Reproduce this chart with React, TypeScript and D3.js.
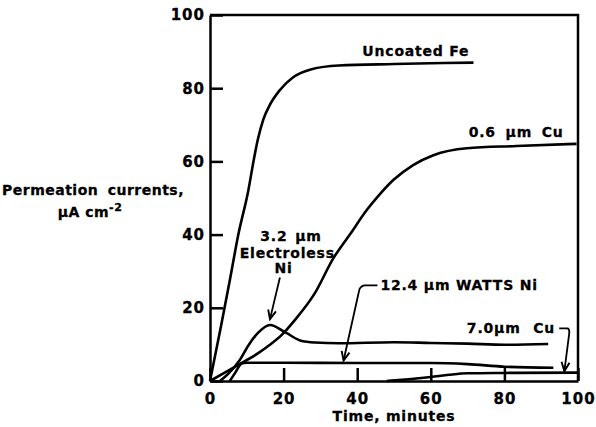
import * as d3 from 'd3';
import { useEffect, useRef } from 'react';

// time (minutes) / permeation current (uA cm-2)
const feX = [0, 3, 5.4, 7.7, 10.4, 12, 13, 14.5, 16.3, 19, 22.6, 27.6, 35, 50, 60, 71.6];
const feY = [0, 15, 27.6, 40, 52, 61, 66, 71.5, 75.5, 79.5, 83, 85.2, 86.2, 86.6, 86.8, 87];

const cu06X = [0, 4, 7.7, 13.1, 16, 19.5, 23.1, 28.5, 33.5, 38, 42.6, 45.7, 49.8, 55.2, 60.7, 69.8, 83.3, 99.6];
const cu06Y = [0, 2.3, 4.4, 7.6, 9.7, 12.6, 16.7, 24, 33.5, 40, 46.7, 50.5, 54.9, 59, 61.7, 63.6, 64.2, 64.8];

const eNiX = [2.7, 5, 8, 10.6, 13.1, 16.3, 20.6, 25, 28.5, 35, 50, 60, 70, 80, 91.9];
const eNiY = [0, 2, 5.6, 10, 13.2, 15.3, 13.2, 10.9, 10.5, 10.3, 10.6, 10.4, 10.2, 9.9, 10.1];

const wattsX = [5.4, 7, 8.6, 10, 20, 40, 60, 70, 80, 93.3];
const wattsY = [0, 2.5, 4.8, 5.0, 5.0, 4.9, 4.9, 4.6, 3.9, 3.6];

const cu70X = [48, 52, 56, 60, 65, 70, 80, 100];
const cu70Y = [0, 0.3, 0.7, 1.1, 1.7, 2.1, 2.2, 2.3];

const xTicks = [0, 20, 40, 60, 80, 100];
const yTicks = [0, 20, 40, 60, 80, 100];

const FONT = '"DejaVu Sans", sans-serif';

const App = () => {
  const ref = useRef(null);

  useEffect(() => {
    const svg = d3.select(ref.current);
    svg.selectAll('*').remove();

    const left = 210, right = 578, top = 15, bottom = 381;
    const x = d3.scaleLinear().domain([0, 100]).range([left, right]);
    const y = d3.scaleLinear().domain([0, 100]).range([bottom, top]);

    const defs = svg.append('defs');
    defs
      .append('marker')
      .attr('id', 'arr')
      .attr('viewBox', '-10 -6 12 12')
      .attr('refX', 0)
      .attr('refY', 0)
      .attr('markerWidth', 12)
      .attr('markerHeight', 12)
      .attr('markerUnits', 'userSpaceOnUse')
      .attr('orient', 'auto')
      .append('path')
      .attr('d', 'M-9,-4 L0,0 L-9,4')
      .attr('fill', 'none')
      .attr('stroke', '#000')
      .attr('stroke-width', 1.9);

    const xAxis = svg
      .append('g')
      .attr('transform', 'translate(0,' + bottom + ')')
      .call(d3.axisBottom(x).tickValues(xTicks).tickSizeInner(-13).tickSizeOuter(0).tickPadding(12));
    const yAxis = svg
      .append('g')
      .attr('transform', 'translate(' + left + ',0)')
      .call(d3.axisLeft(y).tickValues(yTicks).tickSizeInner(-13).tickSizeOuter(0).tickPadding(5));

    [xAxis, yAxis].forEach((g) => {
      g.attr('font-family', FONT).attr('font-size', 15).attr('font-weight', 'bold');
      g.selectAll('path, line').attr('stroke', '#000').attr('stroke-width', 2.5);
      g.selectAll('text').attr('fill', '#000').attr('stroke', '#000').attr('stroke-width', 0.3).style('letter-spacing', '1px');
    });

    // top and right frame
    svg
      .append('path')
      .attr('d', 'M' + left + ',' + top + 'H' + right + 'V' + bottom)
      .attr('fill', 'none')
      .attr('stroke', '#000')
      .attr('stroke-width', 2.5);

    const line = d3
      .line()
      .x((d) => x(d[0]))
      .y((d) => y(d[1]))
      .curve(d3.curveMonotoneX);

    const series = [
      [feX, feY],
      [cu06X, cu06Y],
      [eNiX, eNiY],
      [wattsX, wattsY],
      [cu70X, cu70Y],
    ];
    svg
      .append('g')
      .selectAll('path')
      .data(series)
      .enter()
      .append('path')
      .attr('d', (s) => line(s[0].map((v, i) => [v, s[1][i]])))
      .attr('fill', 'none')
      .attr('stroke', '#000')
      .attr('stroke-width', 2.6)
      .attr('stroke-linejoin', 'round');

    // labels
    const label = (tx, ty, str, anchor, ws) =>
      svg
        .append('text')
        .attr('x', x(tx))
        .attr('y', y(ty))
        .attr('text-anchor', anchor || 'start')
        .attr('font-family', FONT)
        .attr('font-size', 14)
        .attr('font-weight', 'bold')
        .attr('stroke', '#000')
        .attr('stroke-width', 0.3)
        .style('letter-spacing', '0.8px')
        .style('word-spacing', (ws || 0) + 'px')
        .text(str);

    label(41.4, 88.9, 'Uncoated Fe');
    label(70.3, 66.7, '0.6 \u03bcm Cu', 'start', 4);
    label(22, 38.2, '3.2 \u03bcm', 'middle', 2);
    label(21, 33.6, 'Electroless', 'middle');
    label(20, 29.5, 'Ni', 'middle');
    label(46.3, 24.8, '12.4 \u03bcm WATTS Ni');
    label(69.8, 13, '7.0\u03bcm Cu', 'start', 7);

    // leaders
    const leader = (d) =>
      svg
        .append('path')
        .attr('d', d)
        .attr('fill', 'none')
        .attr('stroke', '#000')
        .attr('stroke-width', 1.8)
        .attr('marker-end', 'url(#arr)');

    leader('M' + x(19.0) + ',' + y(28.3) + 'L' + x(16.3) + ',' + y(16.9));
    leader(
      'M' + x(45.5) + ',' + y(26.1) + 'H' + x(41.9) +
        'Q' + x(40.7) + ',' + y(25.8) + ' ' + x(40.5) + ',' + y(24.6) +
        'L' + x(36.3) + ',' + y(5.6)
    );
    leader(
      'M' + x(94.9) + ',' + y(14.4) + 'H' + x(97.2) +
        'Q' + x(97.8) + ',' + y(14) + ' ' + x(97.6) + ',' + y(12.9) +
        'L' + x(96.3) + ',' + y(2.7)
    );

    // axis titles
    svg
      .append('text')
      .attr('x', x(50))
      .attr('y', 421)
      .attr('text-anchor', 'middle')
      .attr('font-family', FONT)
      .attr('font-size', 14)
      .attr('font-weight', 'bold')
      .attr('stroke', '#000')
      .attr('stroke-width', 0.3)
      .style('letter-spacing', '0.8px')
      .text('Time, minutes');

    const yt = svg
      .append('text')
      .attr('text-anchor', 'middle')
      .attr('font-family', FONT)
      .attr('font-size', 14)
      .attr('font-weight', 'bold')
      .attr('stroke', '#000')
      .attr('stroke-width', 0.3)
      .style('letter-spacing', '0.5px');
    yt.append('tspan').attr('x', 93).attr('y', 195).style('word-spacing', '4px').text('Permeation currents,');
    yt.append('tspan').attr('x', 90).attr('y', 217).text('\u03bcA cm');
    yt.append('tspan').attr('dy', -6).attr('font-size', 11).text('-2');
  }, []);

  return (
    <svg
      ref={ref}
      width={596}
      height={427}
      style={{ position: 'absolute', left: 0, top: 0, background: '#fff' }}
    />
  );
};

export default App;
